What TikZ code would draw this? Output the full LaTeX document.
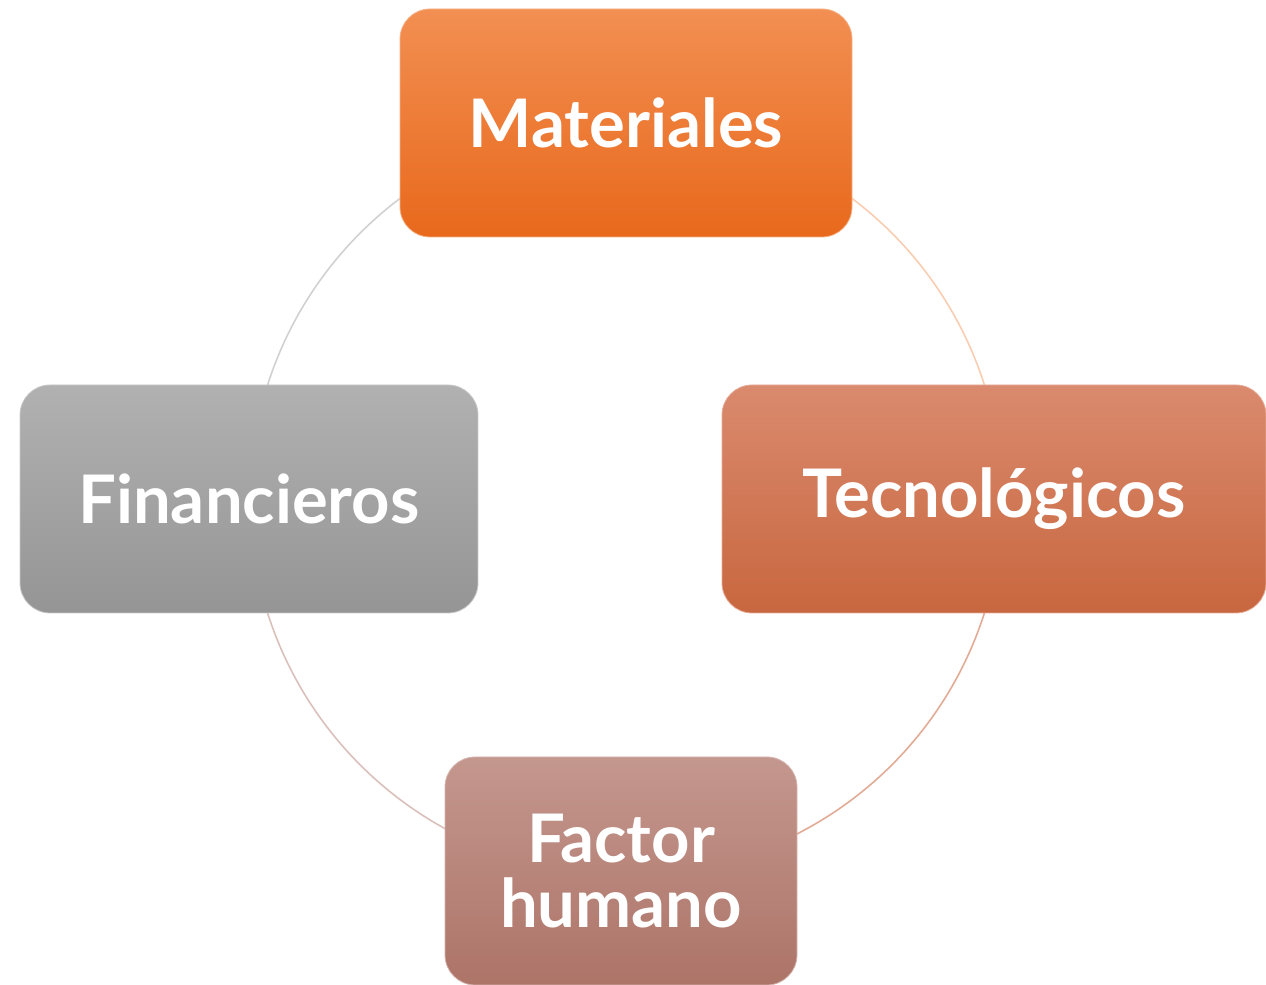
\documentclass[tikz,border=0pt]{standalone}
\usepackage{fontspec}
\newfontfamily\boxfont{Lato}
\usepackage{tikz}
\usetikzlibrary{calc}

\definecolor{matTop}{HTML}{F28F52}
\definecolor{matBot}{HTML}{E8691C}
\definecolor{tecTop}{HTML}{DA8A6E}
\definecolor{tecBot}{HTML}{C8673F}
\definecolor{finTop}{HTML}{B1B1B1}
\definecolor{finBot}{HTML}{959595}
\definecolor{facTop}{HTML}{C4978E}
\definecolor{facBot}{HTML}{AD7468}

\begin{document}
\begin{tikzpicture}[x=0.5pt,y=0.5pt,
        every node/.append style={font=\boxfont\bfseries\fontsize{33.5}{32.5}\selectfont}]
      \tikzstyle{box} = [rounded corners=15pt,text=white,align=center,inner sep=0pt,
                         minimum height=114pt]
      \tikzstyle{ring} = [line width=0.8pt]
      \useasboundingbox (0,0) rectangle (1266,985);
      \coordinate (c) at (626,486);
      % ring behind the boxes
      \draw[ring,color=black!18] ($(c)+(90:376)$) arc (90:180:376);
      \draw[ring,color=matTop!45] ($(c)+(0:376)$) arc (0:90:376);
      \draw[ring,color=tecBot!55] ($(c)+(270:376)$) arc (270:360:376);
      \draw[ring,color=facBot!45] ($(c)+(180:376)$) arc (180:270:376);
      \node (Mat) [box,top color=matTop,bottom color=matBot,draw=matTop!70!white,
                   minimum width=226pt] at (626,862) {Materiales};
      \node (Tec) [box,top color=tecTop,bottom color=tecBot,draw=tecTop!70!white,
                   minimum width=272pt] at (994,486) {Tecnológicos};
      \node (Fin) [box,top color=finTop,bottom color=finBot,draw=finTop!70!white,
                   minimum width=229pt] at (249,486) {Financieros};
      \node (Fac) [box,top color=facTop,bottom color=facBot,draw=facTop!70!white,
                   minimum width=176pt] at (621,114) {Factor\\humano};
    \end{tikzpicture}
\end{document}
